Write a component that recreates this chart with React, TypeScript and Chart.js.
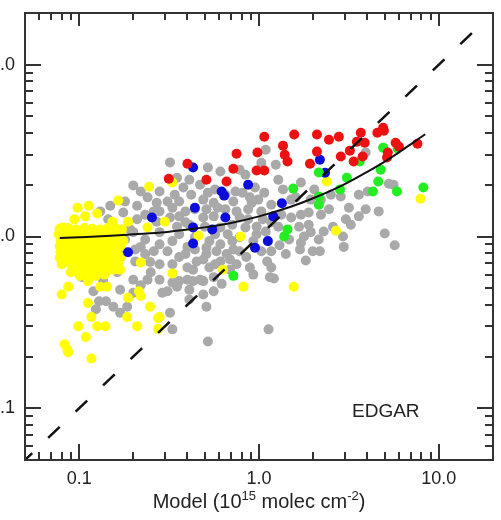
import React, { useEffect, useRef } from 'react';
import { Chart, registerables } from 'chart.js';

Chart.register(...registerables);

// Observed vs. model columns, grouped by region colour
const grayPoints: [number, number][] = [
  [0.32, 2.70], [0.52, 2.52], [0.61, 2.39], [0.78, 2.45], [0.84, 2.29], [1.09, 3.20], [1.03, 2.69], [0.35, 2.20],
  [0.28, 1.83], [0.38, 1.93], [0.34, 1.75], [0.42, 1.75], [0.52, 1.80], [0.57, 1.88], [0.74, 1.83], [0.81, 1.80], [0.99, 1.64], [1.07, 1.80],
  [0.31, 1.60], [0.36, 1.60], [0.49, 1.64], [0.56, 1.57], [0.72, 1.60], [0.91, 1.57],
  [0.28, 1.40], [0.33, 1.47], [0.39, 1.40], [0.51, 1.44], [0.59, 1.47], [0.75, 1.40], [0.87, 1.44], [1.03, 1.40],
  [0.32, 1.29], [0.36, 1.31], [0.49, 1.29], [0.56, 1.31], [0.78, 1.29], [0.87, 1.26], [1.05, 1.26],
  [0.35, 1.14], [0.50, 1.14], [0.71, 1.17], [0.84, 1.13], [0.97, 1.14],
  [0.28, 1.06], [0.36, 1.03], [0.57, 1.03], [0.67, 1.03], [0.97, 1.03],
  [0.33, 0.94], [0.53, 0.94], [0.71, 0.94], [0.93, 0.94],
  [0.20, 1.98], [0.22, 1.83], [0.24, 1.69], [0.18, 1.60], [0.149, 1.51], [0.131, 1.40], [0.145, 1.26], [0.176, 1.38], [0.21, 1.51], [0.27, 1.57],
  [0.21, 1.26], [0.27, 1.22], [0.39, 1.21], [0.163, 1.10], [0.20, 1.06], [0.233, 0.96],
  [0.40, 0.87], [0.51, 0.86], [0.61, 0.90], [0.72, 0.84], [0.22, 0.87], [0.26, 0.82], [0.155, 0.87], [0.26, 1.40],
  [0.31, 0.82], [0.36, 0.76], [0.33, 0.69], [0.40, 0.66], [0.45, 0.715], [0.51, 0.79], [0.58, 0.82], [0.85, 0.76], [0.78, 0.82], [1.03, 0.82], [1.11, 0.715], [0.61, 0.715], [0.53, 0.66],
  [0.36, 0.55], [0.43, 0.55], [0.49, 0.55], [0.31, 0.48], [0.35, 0.51], [0.56, 0.58], [0.62, 0.53], [0.93, 0.60], [1.15, 0.58],
  [0.49, 0.46], [0.51, 0.39], [0.32, 0.36], [1.13, 0.288], [0.52, 0.245], [0.33, 0.288],
  [0.124, 0.377], [0.129, 0.42], [0.141, 0.42], [0.155, 0.39], [0.169, 0.36], [0.20, 0.47], [0.29, 0.47], [0.33, 0.54], [0.40, 0.56], [0.47, 0.56], [0.43, 0.64], [0.24, 0.56], [0.20, 0.56], [0.163, 0.62], [0.25, 0.62], [0.28, 0.69], [0.49, 0.735],
  [0.101, 0.64], [0.104, 0.58], [0.12, 0.48], [0.136, 0.55], [0.185, 0.39], [0.22, 0.52], [0.153, 0.71], [0.205, 0.715], [0.233, 0.79], [0.248, 0.71],
  [1.69, 0.84], [1.82, 0.725], [1.99, 0.82], [2.18, 0.82], [2.96, 0.87], [1.17, 0.82], [1.17, 0.66], [1.21, 0.57],
  [1.28, 2.14], [1.36, 1.88], [1.60, 1.69], [1.71, 2.06], [2.03, 1.88], [1.94, 1.64], [2.45, 1.44], [2.85, 1.71], [3.16, 1.47], [3.59, 1.75], [4.02, 1.83], [3.04, 1.26], [3.59, 1.31], [2.58, 1.14], [2.29, 1.07], [2.93, 1.0], [1.78, 1.0], [1.51, 1.29], [1.67, 1.14], [1.28, 1.14], [1.17, 1.21], [1.47, 0.96], [1.89, 1.17],
  [3.92, 3.08], [4.63, 1.40], [1.30, 0.89], [5.27, 2.03], [5.6, 2.0], [5.0, 1.04], [5.68, 0.89], [1.89, 1.38], [1.94, 1.06], [2.15, 0.96], [1.71, 0.92], [0.69, 0.735], [0.56, 0.48],
  [0.44, 0.84], [0.66, 0.79], [0.75, 0.69], [0.89, 0.66], [0.41, 0.49], [1.09, 1.07], [0.18, 0.96], [0.205, 0.84], [0.28, 0.90], [0.169, 0.78],
  [0.41, 2.14], [0.47, 2.0], [0.65, 1.75], [0.89, 1.69], [1.17, 1.53], [0.44, 1.44], [0.65, 1.44], [0.41, 1.17], [0.61, 1.13], [0.44, 0.99],
  [0.78, 0.99], [0.39, 0.79], [0.69, 0.64], [0.41, 0.43], [0.57, 0.69], [0.28, 0.56], [0.169, 0.49], [0.233, 1.34], [0.192, 1.10], [1.33, 1.34],
  [1.51, 1.64], [1.71, 1.34], [2.21, 1.34], [2.51, 1.75], [3.24, 1.17], [2.21, 1.64], [1.41, 0.79], [3.92, 1.44], [0.95, 1.93], [1.24, 2.62],
];

const yellowPoints: [number, number][] = [
  [0.165, 1.62], [0.098, 1.47], [0.113, 1.51], [0.126, 1.36], [0.108, 1.31], [0.094, 1.26], [0.153, 1.22], [0.187, 1.22], [0.081, 1.13], [0.24, 1.13],
  [0.245, 1.95], [0.33, 2.06], [0.30, 1.22], [0.46, 1.01], [0.79, 1.0], [0.63, 0.64], [0.82, 0.51], [0.33, 0.61], [0.28, 0.34], [1.56, 0.51], [2.38, 2.09], [2.68, 1.08], [7.9, 1.66],
  [0.087, 0.51], [0.080, 0.46], [0.112, 0.55], [0.131, 0.51], [0.143, 0.51], [0.169, 0.64], [0.187, 0.44], [0.215, 0.48], [0.22, 0.45], [0.248, 0.39], [0.112, 0.41], [0.117, 0.34],
  [0.099, 0.30], [0.126, 0.30], [0.14, 0.30], [0.185, 0.34], [0.21, 0.30], [0.109, 0.26], [0.083, 0.236], [0.086, 0.22], [0.087, 0.212], [0.117, 0.195], [0.275, 0.334], [0.275, 0.29], [0.22, 0.705], [0.090, 0.62],
  [0.078, 1.11], [0.087, 1.12], [0.096, 1.10], [0.107, 1.12], [0.118, 1.11], [0.131, 1.10], [0.145, 1.12], [0.161, 1.11], [0.173, 1.10],
  [0.077, 1.03], [0.084, 1.04], [0.091, 1.02], [0.101, 1.03], [0.112, 1.04], [0.124, 1.02], [0.138, 1.03], [0.153, 1.04], [0.169, 1.02],
  [0.079, 0.95], [0.088, 0.96], [0.098, 0.94], [0.108, 0.95], [0.120, 0.96], [0.133, 0.94], [0.147, 0.95], [0.163, 0.96], [0.176, 0.94],
  [0.078, 0.88], [0.085, 0.87], [0.094, 0.88], [0.104, 0.87], [0.115, 0.88], [0.128, 0.87], [0.141, 0.88], [0.156, 0.87], [0.171, 0.88],
  [0.079, 0.81], [0.087, 0.82], [0.096, 0.80], [0.107, 0.81], [0.118, 0.82], [0.131, 0.80], [0.145, 0.81], [0.161, 0.82],
  [0.078, 0.75], [0.086, 0.74], [0.095, 0.75], [0.105, 0.74], [0.117, 0.75], [0.129, 0.74], [0.143, 0.75], [0.159, 0.74], [0.171, 0.76],
  [0.080, 0.69], [0.089, 0.70], [0.099, 0.68], [0.109, 0.69], [0.121, 0.70], [0.134, 0.68], [0.149, 0.69], [0.165, 0.70],
  [0.095, 0.63], [0.105, 0.64], [0.117, 0.63], [0.129, 0.64], [0.143, 0.63], [0.156, 0.64],
  [0.101, 0.59], [0.112, 0.60], [0.124, 0.59], [0.138, 0.60],
];

const redPoints: [number, number][] = [
  [0.315, 2.17], [0.40, 2.65], [0.51, 2.14], [0.66, 2.09], [0.72, 2.48], [0.75, 3.03], [0.98, 3.08], [1.07, 3.81], [0.97, 2.42], [1.07, 2.42],
  [1.36, 3.38], [1.39, 2.99], [1.44, 2.73], [1.57, 3.92], [1.92, 2.65], [2.10, 3.92], [2.10, 3.12], [2.45, 3.66], [2.78, 3.81], [2.85, 2.92],
  [3.2, 3.16], [3.36, 2.73], [3.5, 3.56], [3.68, 4.02], [3.77, 2.92], [3.87, 3.51], [4.55, 4.02], [4.9, 4.30], [4.95, 4.13], [5.75, 3.51],
  [6.0, 3.33], [5.2, 3.08], [5.15, 2.88], [7.6, 3.47],
];

const bluePoints: [number, number][] = [
  [0.187, 0.81], [0.254, 1.29], [0.43, 2.52], [0.44, 1.47], [0.43, 1.13], [0.43, 0.91], [0.55, 1.10], [0.62, 1.83], [0.64, 1.73],
  [0.65, 1.29], [0.87, 2.0], [0.95, 0.86], [1.12, 0.94], [1.20, 1.31], [1.34, 1.56], [2.18, 2.80], [2.33, 2.35],
];

const greenPoints: [number, number][] = [
  [0.72, 0.59], [1.38, 1.0], [1.44, 1.10], [1.55, 1.90], [2.15, 2.36], [2.15, 1.71], [2.15, 1.53], [2.82, 1.88], [3.08, 2.20],
  [3.63, 2.73], [4.3, 1.83], [4.75, 2.45], [4.6, 2.09], [4.9, 3.29], [5.85, 1.83], [5.9, 3.25], [8.2, 1.93],
];

// Regression curve through the scatter
const fitX = [0.078, 0.1, 0.15, 0.2, 0.3, 0.4, 0.5, 0.7, 1.0, 1.5, 2.0, 3.0, 4.0, 5.0, 6.0, 7.0, 8.4];
const fitY = [0.98, 0.99, 1.01, 1.03, 1.06, 1.10, 1.13, 1.20, 1.31, 1.49, 1.67, 2.02, 2.38, 2.73, 3.09, 3.45, 3.94];

// 1:1 reference line
const oneToOneX = [0.05, 16.5];
const oneToOneY = [0.05, 16.5];

const axisMin = 0.05;
const axisMax = 20;
const majorTicks = [0.1, 1, 10];
const tickLabels = ['0.1', '1.0', '10.0'];
const minorTicks = [0.06, 0.07, 0.08, 0.09, 0.2, 0.3, 0.4, 0.5, 0.6, 0.7, 0.8, 0.9, 2, 3, 4, 5, 6, 7, 8, 9];

const regionLabel = 'EDGAR';
const xTitleParts: { text: string; sup: boolean }[] = [
  { text: 'Model (10', sup: false },
  { text: '15', sup: true },
  { text: ' molec cm', sup: false },
  { text: '-2', sup: true },
  { text: ')', sup: false },
];

const FONT = '"Liberation Sans", Arial, Helvetica, sans-serif';

const toXY = (pts: [number, number][]) => pts.map(([x, y]) => ({ x, y }));

const frameTicksPlugin = {
  id: 'frameTicks',
  afterDraw(chart: any) {
    const { ctx, chartArea: a, scales } = chart;
    const xs = scales.x;
    const ys = scales.y;
    ctx.save();
    ctx.strokeStyle = '#333';
    ctx.lineWidth = 2;
    ctx.strokeRect(a.left, a.top, a.right - a.left, a.bottom - a.top);

    ctx.beginPath();
    const mark = (v: number, len: number, lenTop: number) => {
      const px = Math.round(xs.getPixelForValue(v));
      ctx.moveTo(px, a.bottom);
      ctx.lineTo(px, a.bottom - len);
      ctx.moveTo(px, a.top);
      ctx.lineTo(px, a.top + lenTop);
      const py = Math.round(ys.getPixelForValue(v));
      ctx.moveTo(a.left, py);
      ctx.lineTo(a.left + len, py);
      ctx.moveTo(a.right, py);
      ctx.lineTo(a.right - len, py);
    };
    majorTicks.forEach((v) => mark(v, 16, 13));
    minorTicks.forEach((v) => mark(v, 8, 7));
    ctx.stroke();

    // region name inside the plot
    ctx.fillStyle = '#222';
    ctx.font = `19px ${FONT}`;
    ctx.textAlign = 'left';
    ctx.textBaseline = 'alphabetic';
    ctx.fillText(regionLabel, a.left + 327, a.bottom - 43);

    // x-axis title with superscripts
    const base = `20px ${FONT}`;
    const small = `13px ${FONT}`;
    let total = 0;
    xTitleParts.forEach((p) => {
      ctx.font = p.sup ? small : base;
      total += ctx.measureText(p.text).width;
    });
    let x = (a.left + a.right) / 2 - total / 2;
    const baseline = a.bottom + 48;
    xTitleParts.forEach((p) => {
      ctx.font = p.sup ? small : base;
      ctx.fillText(p.text, x, p.sup ? baseline - 8 : baseline);
      x += ctx.measureText(p.text).width;
    });
    ctx.restore();
  },
};

const logAxis = (id: 'x' | 'y') => ({
  type: 'logarithmic' as const,
  min: axisMin,
  max: axisMax,
  grid: { display: false, drawTicks: false },
  border: { display: false },
  afterBuildTicks: (scale: any) => {
    scale.ticks = majorTicks.map((v) => ({ value: v }));
  },
  afterFit: (scale: any) => {
    if (id === 'x') {
      scale.height = 60;
      scale.paddingLeft = 0;
      scale.paddingRight = 0;
    } else {
      scale.width = 55;
      scale.paddingTop = 0;
      scale.paddingBottom = 0;
    }
  },
  ticks: {
    autoSkip: false,
    maxRotation: 0,
    padding: id === 'x' ? 8 : 10,
    color: '#222',
    font: { family: FONT, size: 18 },
    callback: (value: any) => {
      const i = majorTicks.indexOf(Number(value));
      return i >= 0 ? tickLabels[i] : '';
    },
  },
});

export default function App() {
  const canvasRef = useRef<HTMLCanvasElement | null>(null);

  useEffect(() => {
    if (!canvasRef.current) return;
    const dot = { showLine: false, pointRadius: 5, pointHoverRadius: 5, pointBorderWidth: 0 };
    const chart = new Chart(canvasRef.current, {
      type: 'scatter',
      data: {
        datasets: [
          {
            label: '1:1',
            data: oneToOneX.map((x, i) => ({ x, y: oneToOneY[i] })),
            showLine: true,
            borderColor: '#111',
            borderWidth: 2.5,
            borderDash: [16, 22],
            borderDashOffset: 6,
            pointRadius: 0,
            order: 0,
          },
          {
            label: 'fit',
            data: fitX.map((x, i) => ({ x, y: fitY[i] })),
            showLine: true,
            borderColor: '#111',
            borderWidth: 2,
            cubicInterpolationMode: 'monotone',
            pointRadius: 0,
            order: 1,
          },
          { label: 'red', data: toXY(redPoints), backgroundColor: '#ee1111', ...dot, order: 2 },
          { label: 'green', data: toXY(greenPoints), backgroundColor: '#22ee22', ...dot, order: 3 },
          { label: 'blue', data: toXY(bluePoints), backgroundColor: '#0c0cdd', ...dot, order: 4 },
          { label: 'yellow', data: toXY(yellowPoints), backgroundColor: '#ffff00', ...dot, order: 5 },
          { label: 'gray', data: toXY(grayPoints), backgroundColor: '#a9a9a9', ...dot, order: 6 },
        ],
      },
      options: {
        responsive: false,
        animation: false,
        devicePixelRatio: 1,
        layout: { padding: { top: 13, right: 8, left: 0, bottom: 0 } },
        plugins: { legend: { display: false }, tooltip: { enabled: false } },
        events: [],
        scales: {
          x: logAxis('x'),
          y: logAxis('y'),
        },
      } as any,
      plugins: [frameTicksPlugin],
    });
    return () => chart.destroy();
  }, []);

  return (
    <div style={{ position: 'absolute', left: -30, top: 0, width: 531, height: 520, background: '#fff' }}>
      <canvas ref={canvasRef} width={531} height={520} style={{ display: 'block', width: 531, height: 520 }} />
    </div>
  );
}
